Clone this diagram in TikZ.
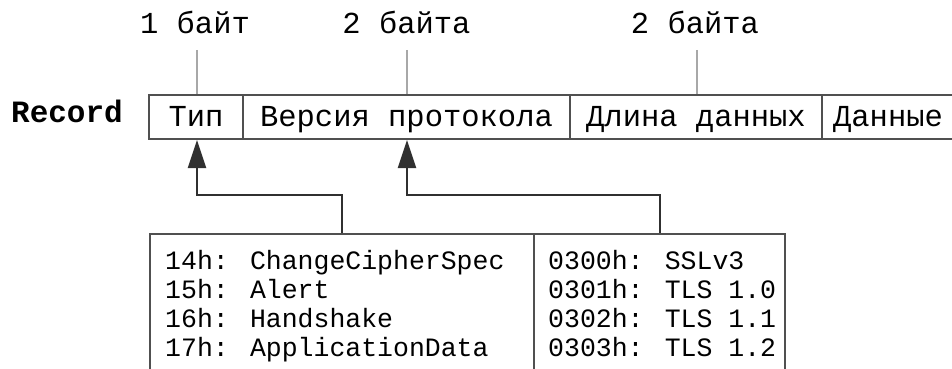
\documentclass[tikz,border=0pt]{standalone}
\usepackage{fontspec}
\setmainfont{Liberation Mono}
\usetikzlibrary{arrows.meta}
\definecolor{edgec}{HTML}{505050}
\definecolor{tickc}{HTML}{A8A8A8}
\definecolor{connc}{HTML}{303030}
\begin{document}
\begin{tikzpicture}[x=1pt,y=-1pt,
  cell/.style={draw=edgec, line width=2pt, minimum height=44pt, inner sep=0pt,
    font=\fontsize{30.5}{33}\selectfont, text height=23pt, text depth=5pt},
  reclabel/.style={inner sep=0pt, font=\fontsize{31}{33}\selectfont\bfseries, text height=23pt, text depth=5pt},
  toplabel/.style={inner sep=0pt, font=\fontsize{30.5}{33}\selectfont},
  tickline/.style={draw=tickc, line width=1.5pt},
  boxframe/.style={draw=edgec, line width=2pt, minimum height=150pt, inner sep=0pt},
  boxtext/.style={inner sep=0pt, align=left, font=\fontsize{26.5}{29}\selectfont},
  conn/.style={draw=connc, line width=2pt, -{Triangle[length=28pt,width=18pt]}}
]
\useasboundingbox (0,0) rectangle (952,369);
\clip (0,0) rectangle (952,369);

% record bar
\node[reclabel] (rec) at (67,113) {Record};
\node[cell, minimum width=94pt] (typ) at (196,117) {Тип};
\node[cell, minimum width=327pt] (ver) at (406.5,117) {Версия протокола};
\node[cell, minimum width=252pt] (len) at (696,117) {Длина данных};
\node[cell, minimum width=132pt] (dat) at (888,117) {Данные};

% size labels
\node[toplabel, anchor=base] (l1) at (195,34) {1 байт};
\node[toplabel, anchor=base] (l2) at (406.5,34) {2 байта};
\node[toplabel, anchor=base] (l3) at (695,34) {2 байта};
\coordinate (k1) at (197,50);
\coordinate (k2) at (407,50);
\coordinate (k3) at (697,50);
\draw[tickline] (k1) -- (k1 |- typ.north);
\draw[tickline] (k2) -- (k2 |- ver.north);
\draw[tickline] (k3) -- (k3 |- len.north);

% value boxes
\node[boxframe, minimum width=384pt, anchor=north west] (b1) at (149,233) {};
\node[boxframe, minimum width=251pt, anchor=north west] (b2) at (533,233) {};
\node[boxtext, anchor=north west] (t1) at (165,250)
  {14h: ChangeCipherSpec\\15h: Alert\\16h: Handshake\\17h: ApplicationData};
\node[boxtext, anchor=north west] (t2) at (548,250)
  {0300h: SSLv3\\0301h: TLS 1.0\\0302h: TLS 1.1\\0303h: TLS 1.2};

% connectors
\coordinate (j1) at (197,195);
\coordinate (j2) at (407,195);
\draw[conn] (b1.north) |- (j1) -- (j1 |- typ.south);
\draw[conn] (b2.north) |- (j2) -- (j2 |- ver.south);
\end{tikzpicture}
\end{document}
